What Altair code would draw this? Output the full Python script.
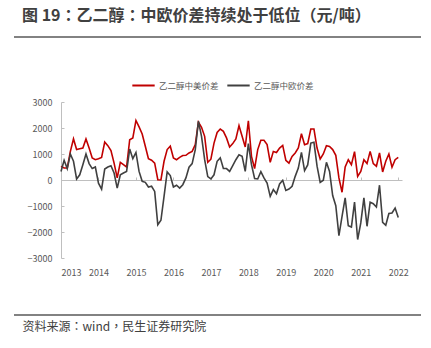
import altair as alt
import pandas as pd

FONT = "Noto Sans CJK SC"
FONT_TC = "Noto Sans CJK TC"

title_text = "图 19：乙二醇：中欧价差持续处于低位（元/吨）"
source_text = "资料来源：wind，民生证券研究院"
series_names = ["乙二醇中美价差", "乙二醇中欧价差"]
series_colors = ["#C00000", "#404040"]
start_month = "2013-01"

us_spread = [
    525, 460, 460, 1100, 1580, 1170, 1200, 1230, 1580, 1230, 850, 780,
    820, 870, 1460, 1320, 1130, 650, 80, 680, 590, 500, 1550, 1620,
    2290, 2040, 1770, 1300, 820, 760, 650, 10, 0, 720, 1170, 1300,
    850, 780, 870, 940, 950, 1040, 1100, 1360, 2230, 2030, 1680, 680,
    800, 1420, 1830, 1960, 1870, 1620, 1270, 1400, 1580, 2090, 1680, 1270,
    2280, 910, 440, 1170, 1530, 1530, 1360, 680, 1100, 1060, 1230, 1330,
    760, 650, 910, 1040, 1230, 1780, 1360, 1400, 1960, 1960, 1230, 810,
    1000, 1320, 1290, 1170, 950, 80, -470, 500, 780, 590, 1090, 140,
    330, 780, 630, 1100, 630, 530, 1040, 310, 720, 1000, 490, 780, 870,
]
eu_spread = [
    330, 760, 440, 1000, 720, 40, 200, 590, 1000, 630, 440, 500,
    -120, -350, 420, 500, 550, 270, -310, 200, 270, 330, 1190, 820,
    1060, 330, -50, -90, -270, -240, -440, -1720, -1550, -630, 310, 170,
    -270, -200, -310, -180, 80, 490, 630, 1170, 2260, 1680, 780, 130,
    40, 200, 720, 850, 440, 440, 330, 550, 780, 970, 910, 330,
    1400, 590, 60, 40, 320, 80, -120, -630, -370, -530, -150, -10,
    -400, -350, -240, 140, 460, 1060, 360, 580, 1420, 1450, 530, -90,
    -10, 680, 330, -600, -990, -2140, -1400, -690, -1760, -1810, -850, -2290,
    -1650, -690, -1780, -850, -910, -1040, -200, -1630, -1740, -1290, -1270, -1080, -1440,
]
year_ticks = list(range(2013, 2023))
y_ticks = [-3000, -2000, -1000, 0, 1000, 2000, 3000]

months = pd.date_range(start_month, periods=len(us_spread), freq="MS")
t = list(months.year + (months.month - 1) / 12.0)
df = pd.concat([
    pd.DataFrame({"t": t, "value": us_spread, "series": series_names[0]}),
    pd.DataFrame({"t": t, "value": eu_spread, "series": series_names[1]}),
])

W, H = 341, 156
xscale = alt.Scale(domain=[2013, 2022.1], nice=False, zero=False)
yscale = alt.Scale(domain=[-3000, 3000], nice=False)
AX = "#BFBFBF"
LBL = "#595959"

x_label_axis = alt.Axis(orient="bottom", values=year_ticks, format="d", domain=False,
                        ticks=False, tickSize=0, labelPadding=10, labelFontSize=9,
                        labelColor=LBL, labelFont=FONT, grid=False, title=None)
y_label_axis = alt.Axis(orient="left", values=y_ticks, format="d", domain=False,
                        ticks=False, tickSize=0, labelPadding=9, labelFontSize=9,
                        labelColor=LBL, labelFont=FONT, grid=False, title=None)
x_tick_axis = alt.Axis(orient="top", offset=-78, values=year_ticks, labels=False,
                       domain=True, domainColor=AX, domainWidth=1.2, ticks=True,
                       tickSize=3, tickColor=AX, grid=False, title=None)
y_tick_axis = alt.Axis(orient="right", offset=-W, values=y_ticks, labels=False,
                       domain=True, domainColor=AX, domainWidth=1, ticks=True,
                       tickSize=3, tickColor=AX, grid=False, title=None)

helper = alt.Chart(df).mark_line(opacity=0).encode(
    x=alt.X("t:Q", scale=xscale, axis=x_tick_axis),
    y=alt.Y("value:Q", scale=yscale, axis=y_tick_axis),
    detail="series:N",
)

lines = alt.Chart(df).mark_line(strokeWidth=1.6).encode(
    x=alt.X("t:Q", scale=xscale, axis=x_label_axis),
    y=alt.Y("value:Q", scale=yscale, axis=y_label_axis),
    color=alt.Color("series:N",
                    scale=alt.Scale(domain=series_names, range=series_colors),
                    sort=series_names,
                    legend=alt.Legend(orient="none", legendX=70, legendY=-29,
                                      direction="horizontal", columns=2,
                                      symbolType="stroke", symbolStrokeWidth=2,
                                      symbolSize=500, labelFontSize=8.5,
                                      labelColor=LBL, labelFont=FONT,
                                      columnPadding=4, labelOffset=3, title=None)),
)

title_df = pd.DataFrame({"txt": [title_text]})
source_df = pd.DataFrame({"txt": [source_text]})
one = pd.DataFrame({"k": [0]})

title_mark = alt.Chart(title_df).mark_text(
    align="left", baseline="middle", font=FONT_TC, fontSize=16, fontWeight="bold",
    color="#404040").encode(x=alt.value(-39), y=alt.value(-86.5), text="txt:N")
source_mark = alt.Chart(source_df).mark_text(
    align="left", baseline="middle", font=FONT_TC, fontSize=12,
    color="#404040").encode(x=alt.value(-38.5), y=alt.value(225), text="txt:N")
top_rule = alt.Chart(one).mark_rule(color="#595959", strokeWidth=1.6).encode(
    x=alt.value(-47), x2=alt.value(360), y=alt.value(-65))
bottom_rule = alt.Chart(one).mark_rule(color="#595959", strokeWidth=1.4).encode(
    x=alt.value(-47), x2=alt.value(360), y=alt.value(213))

chart = alt.layer(helper, lines, title_mark, source_mark, top_rule, bottom_rule).resolve_axis(
    x="independent", y="independent"
).properties(
    width=W, height=H,
    autosize=alt.AutoSizeParams(type="none"),
    padding={"left": 61, "top": 102, "right": 29, "bottom": 90},
    background="white",
).configure_view(stroke=None)

chart.save("out.html", embed_options={"renderer": "svg", "actions": False})
